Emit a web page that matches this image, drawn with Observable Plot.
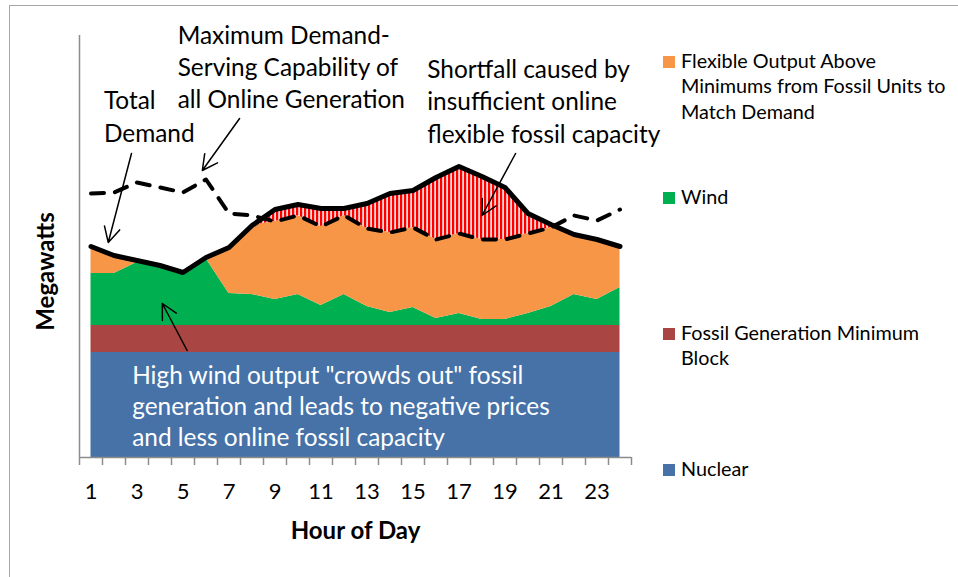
<!DOCTYPE html>
<html><head><meta charset="utf-8">
<script src="https://cdn.jsdelivr.net/npm/d3@7"></script>
<script src="https://cdn.jsdelivr.net/npm/@observablehq/plot@0.6"></script>
<style>
html,body{margin:0;padding:0;background:#fff;overflow:hidden;}
#wrap{position:relative;width:958px;height:577px;overflow:hidden;background:#fff;}
#frame{position:absolute;left:9px;top:5px;width:2000px;height:2000px;border:1px solid #A6A6A6;box-sizing:border-box;}
#chart{position:absolute;left:0;top:0;}
</style></head><body>
<div id="wrap"><div id="frame"></div><div id="chart"></div></div>
<script>
// ---- data (arbitrary MW units) ----
const hours = [1,2,3,4,5,6,7,8,9,10,11,12,13,14,15,16,17,18,19,20,21,22,23,24];
const nuclear = [105,105,105,105,105,105,105,105,105,105,105,105,105,105,105,105,105,105,105,105,105,105,105,105];
const fossilMin = [27,27,27,27,27,27,27,27,27,27,27,27,27,27,27,27,27,27,27,27,27,27,27,27];
const wind = [52,52,63,60,54,67,32,31,26,31,20,31,19,13,18,7,12,6,6,12,19,31,26,38];
const demand = [211,202,197,192,185,200,210,232,248,253,249,249,254,264,267,280,291,281,270,244,233,223,218,211];
const capability = [264,265,275,270,265,278,244,242,236,242,231,242,229,225,230,218,224,218,218,224,230,242,237,248];
const tickLabels = [1,3,5,7,9,11,13,15,17,19,21,23];
const tickBounds = [0.5,1.5,2.5,3.5,4.5,5.5,6.5,7.5,8.5,9.5,10.5,11.5,12.5,13.5,14.5,15.5,16.5,17.5,18.5,19.5,20.5,21.5,22.5,23.5,24.5];

const seriesNames = ["Flexible Output Above\nMinimums from Fossil Units to\nMatch Demand", "Wind", "Fossil Generation Minimum\nBlock", "Nuclear"];
const seriesColors = ["#F79646", "#00B050", "#A94643", "#4672A8"];

const annotations = [
  {text: "Total\nDemand", x: 1.56, y: 316, lh: 1.35},
  {text: "Maximum Demand-\nServing Capability of\nall Online Generation", x: 4.77, y: 350, lh: 1.30},
  {text: "Shortfall caused by\ninsufficient online\nflexible fossil capacity", x: 15.62, y: 315, lh: 1.33}
];
const windNote = {text: "High wind output \"crowds out\" fossil\ngeneration and leads to negative prices\nand less online fossil capacity", x: 2.79, y: 12};
const arrows = [
  {x1: 2.76, y1: 304, x2: 1.75, y2: 215},
  {x1: 7.46, y1: 339, x2: 5.84, y2: 287},
  {x1: 19.46, y1: 304, x2: 18.0, y2: 242},
  {x1: 5.18, y1: 107, x2: 4.10, y2: 154}
];

// ---- derived table ----
const rows = hours.map((h, i) => {
  const b1 = nuclear[i];
  const b2 = b1 + fossilMin[i];
  const b3 = b2 + wind[i];
  const served = Math.max(b3, Math.min(demand[i], capability[i]));
  return {hour: h, b1, b2, b3, served, demand: demand[i], cap: capability[i]};
});

const FONT = "Lato, 'Open Sans', sans-serif";
const axisGray = "#8C8C8C";
const NOTE = 24.4;

const plot = Plot.plot({
  width: 958,
  height: 577,
  marginLeft: 79,
  marginRight: 327,
  marginTop: 35,
  marginBottom: 120,
  style: {fontFamily: FONT, fontSize: "22px", color: "#000", background: "transparent", overflow: "visible"},
  x: {type: "linear", domain: [0.5, 24.5]},
  y: {domain: [0, 422], axis: null},
  marks: [
    Plot.areaY(rows, {x: "hour", y1: 0, y2: "b1", fill: seriesColors[3]}),
    Plot.areaY(rows, {x: "hour", y1: "b1", y2: "b2", fill: seriesColors[2]}),
    Plot.areaY(rows, {x: "hour", y1: "b2", y2: "b3", fill: seriesColors[1]}),
    Plot.areaY(rows, {x: "hour", y1: "b3", y2: "served", fill: seriesColors[0]}),
    Plot.areaY(rows, {x: "hour", y1: "served", y2: "demand", fill: "url(#hatch)"}),
    Plot.lineY(rows, {x: "hour", y: "cap", stroke: "#000", strokeWidth: 4, strokeDasharray: "13,11"}),
    Plot.lineY(rows, {x: "hour", y: "demand", stroke: "#000", strokeWidth: 5, strokeLinejoin: "round"}),
    Plot.ruleX([0.5], {y1: 0, y2: 422, stroke: axisGray, strokeWidth: 1.5}),
    Plot.ruleY([0], {x1: 0.5, x2: 24.5, stroke: axisGray, strokeWidth: 1.5}),
    Plot.axisX(tickBounds, {tickSize: 8, tickFormat: () => "", stroke: axisGray, strokeWidth: 1.5}),
    Plot.axisX(tickLabels, {tickSize: 0, tickPadding: 26, tickFormat: d => String(d), fontSize: 22, fill: "#000"}),
    Plot.text(["Megawatts"], {frameAnchor: "left", rotate: -90, dx: -33, dy: 25, textAnchor: "middle", lineAnchor: "middle", fontWeight: "bold", fontSize: 24}),
    Plot.text(["Hour of Day"], {frameAnchor: "bottom", dy: 74, textAnchor: "middle", lineAnchor: "middle", fontWeight: "bold", fontSize: 24}),
    ...annotations.map(a => Plot.text([a], {x: "x", y: "y", text: "text", textAnchor: "start", lineAnchor: "bottom", lineHeight: a.lh, fontSize: NOTE, fill: "#000"})),
    Plot.text([windNote], {x: "x", y: "y", text: "text", textAnchor: "start", lineAnchor: "bottom", lineHeight: 1.27, fontSize: NOTE, fill: "#fff"}),
    Plot.arrow(arrows, {x1: "x1", y1: "y1", x2: "x2", y2: "y2", stroke: "#000", strokeWidth: 1.5, headLength: 17, headAngle: 55})
  ]
});

// hatch pattern
const svg = d3.select(plot);
const defs = svg.insert("defs", ":first-child");
const pat = defs.append("pattern").attr("id", "hatch").attr("patternUnits", "userSpaceOnUse").attr("width", 4).attr("height", 10);
pat.append("rect").attr("width", 4).attr("height", 10).attr("fill", "#FFDADA");
pat.append("rect").attr("width", 2.2).attr("height", 10).attr("fill", "#FF0000");

// legend
const legendTops = [56, 192, 328, 464];
const lg = svg.append("g").attr("font-family", FONT).attr("font-size", 19.8).attr("fill", "#000").attr("text-anchor", "start");
seriesNames.forEach((name, i) => {
  const top = legendTops[i];
  lg.append("rect").attr("x", 663).attr("y", top).attr("width", 12).attr("height", 12).attr("fill", seriesColors[i]).attr("stroke", "none");
  const t = lg.append("text").attr("x", 681).attr("y", top + 11.5).attr("text-anchor", "start");
  name.split("\n").forEach((line, j) => {
    t.append("tspan").attr("x", 681).attr("dy", j === 0 ? 0 : 25.5).text(line);
  });
});

document.getElementById("chart").appendChild(plot);
</script>
</body></html>
